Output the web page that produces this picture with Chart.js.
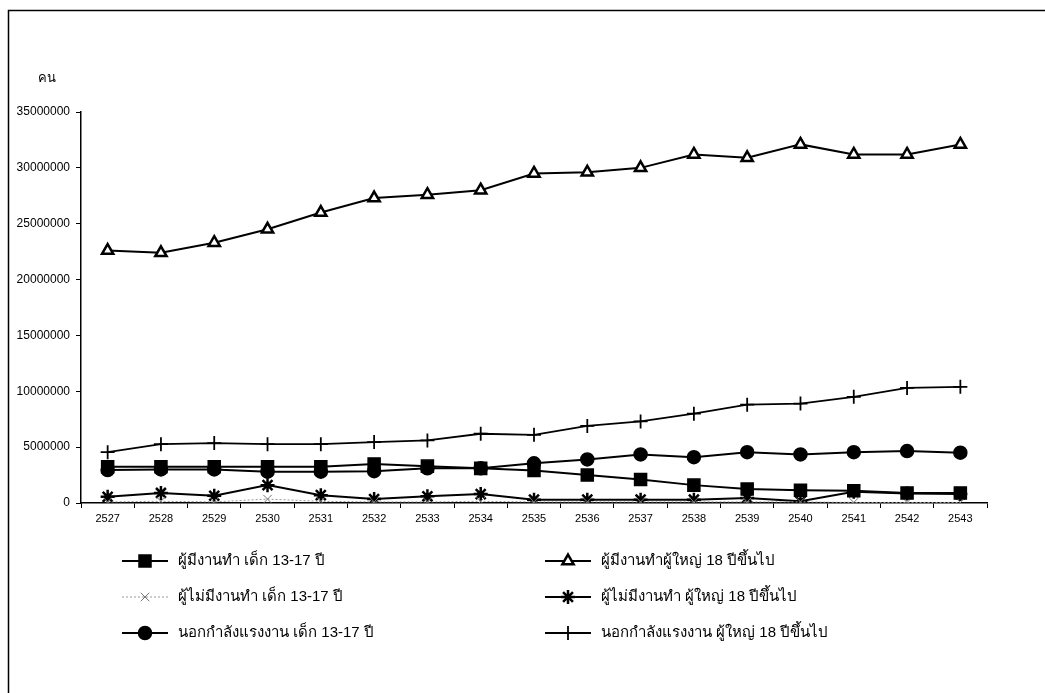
<!DOCTYPE html>
<html>
<head>
<meta charset="utf-8">
<script src="https://cdn.jsdelivr.net/npm/chart.js@4.4.1/dist/chart.umd.min.js"></script>
<style>
  body { margin: 0; background: #fff; }
  #wrap { width: 1045px; height: 693px; position: relative; }
</style>
</head>
<body>
<div id="wrap"><canvas id="chart" width="1045" height="693"></canvas></div>
<script>
// years (Buddhist era)
const years = ['2527','2528','2529','2530','2531','2532','2533','2534','2535','2536','2537','2538','2539','2540','2541','2542','2543'];

// values in persons
const employedChild   = [3250000, 3250000, 3250000, 3250000, 3250000, 3500000, 3300000, 3100000, 2900000, 2500000, 2100000, 1600000, 1250000, 1150000, 1100000, 900000, 900000];
const employedAdult   = [22600000, 22400000, 23300000, 24500000, 26000000, 27300000, 27600000, 28000000, 29500000, 29600000, 30000000, 31200000, 30900000, 32100000, 31200000, 31200000, 32100000];
const unemployedChild = [100000, 150000, 100000, 350000, 150000, 100000, 100000, 150000, 100000, 100000, 100000, 100000, 100000, 100000, 50000, 50000, 50000];
const unemployedAdult = [550000, 900000, 650000, 1600000, 700000, 350000, 600000, 800000, 300000, 300000, 300000, 300000, 450000, 150000, 1000000, 850000, 800000];
const outsideChild    = [2950000, 3000000, 3000000, 2800000, 2800000, 2850000, 3100000, 3100000, 3550000, 3900000, 4350000, 4100000, 4550000, 4350000, 4550000, 4650000, 4500000];
const outsideAdult    = [4550000, 5270000, 5360000, 5270000, 5270000, 5450000, 5600000, 6200000, 6100000, 6900000, 7300000, 8000000, 8800000, 8900000, 9500000, 10300000, 10400000];

const yTicks = [0, 5000000, 10000000, 15000000, 20000000, 25000000, 30000000, 35000000];

const fontFamily = "'Liberation Sans', Arial, sans-serif";

// frame, unit label and two-column legend
const extras = {
    id: 'extras',
    beforeDraw(chart) {
        const ctx = chart.ctx;
        ctx.save();
        ctx.fillStyle = '#fff';
        ctx.fillRect(0, 0, chart.width, chart.height);
        ctx.strokeStyle = '#000';
        ctx.lineWidth = 1.5;
        ctx.beginPath();
        ctx.moveTo(8.5, chart.height);
        ctx.lineTo(8.5, 10.5);
        ctx.lineTo(chart.width, 10.5);
        ctx.stroke();
        ctx.fillStyle = '#000';
        ctx.font = '13px ' + fontFamily;
        ctx.textBaseline = 'middle';
        ctx.fillText('คน', 38, 78);
        ctx.restore();
    },
    afterDraw(chart) {
        const ctx = chart.ctx;
        const colX = [122, 545];
        const rowY = [561, 597, 633];
        chart.data.datasets.forEach((ds, i) => {
            const x = colX[i % 2];
            const y = rowY[Math.floor(i / 2)];
            ctx.save();
            ctx.strokeStyle = ds.borderColor;
            ctx.lineWidth = ds.borderWidth;
            ctx.setLineDash(ds.borderDash || []);
            ctx.beginPath();
            ctx.moveTo(x, y);
            ctx.lineTo(x + 46, y);
            ctx.stroke();
            ctx.setLineDash([]);
            ctx.fillStyle = ds.pointBackgroundColor;
            ctx.strokeStyle = ds.pointBorderColor;
            ctx.lineWidth = ds.pointBorderWidth;
            Chart.helpers.drawPoint(ctx, { pointStyle: ds.pointStyle, radius: ds.pointRadius, borderWidth: ds.pointBorderWidth }, x + 23, y);
            ctx.fillStyle = '#000';
            ctx.font = '15px ' + fontFamily;
            ctx.textBaseline = 'middle';
            ctx.fillText(ds.label, x + 56, y);
            ctx.restore();
        });
    }
};

function series(label, data, style, opts) {
    return Object.assign({
        label: label,
        data: data,
        borderColor: '#000',
        borderWidth: 2,
        pointStyle: style,
        pointRadius: 6,
        pointBackgroundColor: '#000',
        pointBorderColor: '#000',
        pointBorderWidth: 1.5,
        tension: 0
    }, opts || {});
}

const datasets = [
    series('ผู้มีงานทำ เด็ก 13-17 ปี', employedChild, 'rect', { pointRadius: 8.5 }),
    series('ผู้มีงานทำผู้ใหญ่ 18 ปีขึ้นไป', employedAdult, 'triangle', { pointBackgroundColor: '#fff', pointBorderWidth: 2.5, pointRadius: 6.5 }),
    series('ผู้ไม่มีงานทำ เด็ก 13-17 ปี', unemployedChild, 'crossRot', { borderColor: '#999', borderWidth: 1, borderDash: [2, 2], pointBorderColor: '#777', pointBorderWidth: 1, pointRadius: 6 }),
    series('ผู้ไม่มีงานทำ ผู้ใหญ่ 18 ปีขึ้นไป', unemployedAdult, 'star', { pointBorderWidth: 2.5, pointRadius: 7 }),
    series('นอกกำลังแรงงาน เด็ก 13-17 ปี', outsideChild, 'circle', { pointRadius: 6.5 }),
    series('นอกกำลังแรงงาน ผู้ใหญ่ 18 ปีขึ้นไป', outsideAdult, 'cross', { borderWidth: 1.8, pointBorderWidth: 1.8, pointRadius: 7 })
];

new Chart(document.getElementById('chart').getContext('2d'), {
    type: 'line',
    data: { labels: years, datasets: datasets },
    options: {
        responsive: false,
        animation: false,
        layout: { padding: { left: 10, right: 58, top: 112, bottom: 160 } },
        plugins: {
            legend: { display: false },
            tooltip: { enabled: false }
        },
        scales: {
            x: {
                offset: true,
                grid: { display: true, drawOnChartArea: false, drawTicks: true, tickLength: 5, color: '#000', offset: true },
                border: { display: true, color: '#000', width: 1.5 },
                ticks: { color: '#000', font: { family: fontFamily, size: 11 }, maxRotation: 0, autoSkip: false, padding: 4 },
                afterFit(scale) { scale.height = 30; }
            },
            y: {
                min: 0,
                max: 35000000,
                afterBuildTicks(scale) { scale.ticks = yTicks.map(v => ({ value: v })); },
                grid: { display: true, drawOnChartArea: false, drawTicks: true, tickLength: 5, color: '#000' },
                border: { display: true, color: '#000', width: 1.5 },
                ticks: { color: '#000', font: { family: fontFamily, size: 12 }, padding: 6, callback: v => String(v) },
                afterFit(scale) { scale.width = 71; }
            }
        }
    },
    plugins: [extras]
});
</script>
</body>
</html>
